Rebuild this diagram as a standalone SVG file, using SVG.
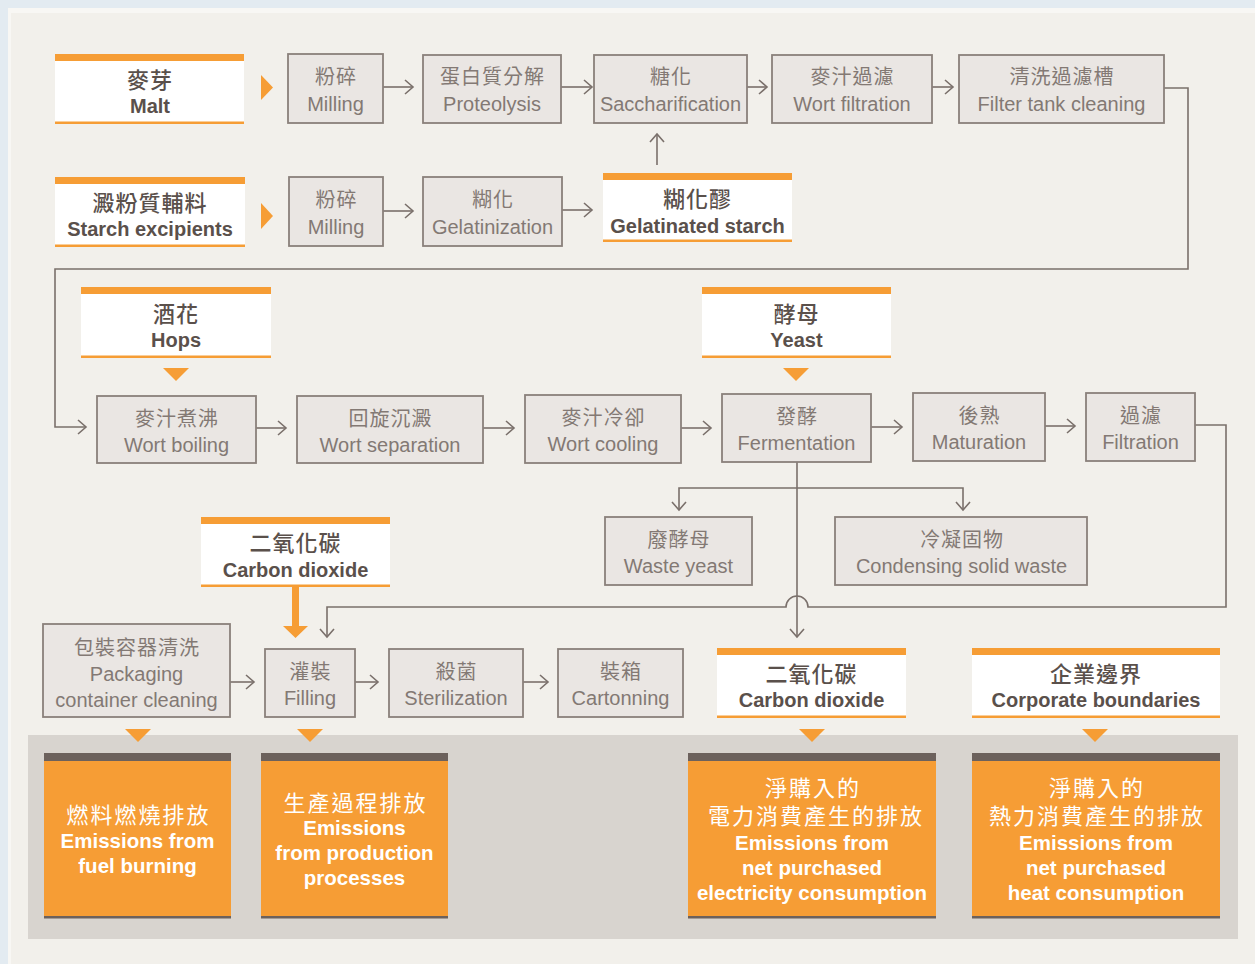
<svg xmlns="http://www.w3.org/2000/svg" width="1255" height="964" viewBox="0 0 1255 964">
<style>
text{font-family:"Liberation Sans","Noto Sans CJK TC",sans-serif;text-anchor:middle}
.box{fill:#eae6e3;stroke:#8a807b;stroke-width:1.8}
.ncjk{font-size:20px;fill:#837974;letter-spacing:1px}
.nen{font-size:20px;fill:#837974}
.lbg{fill:#ffffff}
.or{fill:#f69d35}
.lcjk{font-size:22px;fill:#5a504b;letter-spacing:1px;font-weight:500}
.len{font-size:20px;fill:#5a504b;font-weight:bold}
.con{fill:none;stroke:#7a706b;stroke-width:1.6}
.ecjk{font-size:22px;fill:#ffffff;letter-spacing:2px}
.een{font-size:20.5px;fill:#ffffff;font-weight:bold}
.dk{fill:#6c615c}
</style>
<defs>
<marker id="ah" markerUnits="userSpaceOnUse" markerWidth="12" markerHeight="18" viewBox="0 0 12 18" refX="10" refY="9" orient="auto">
<path d="M2,2 L10,9 L2,16" fill="none" stroke="#7a706b" stroke-width="1.6"/>
</marker>
</defs>
<rect x="0" y="0" width="1255" height="964" fill="#e3ebf1"/>
<rect x="8" y="8" width="1247" height="956" fill="#f8f7f4"/>
<rect x="11" y="13" width="1244" height="951" fill="#f2f0eb"/>
<rect x="28" y="735" width="1210" height="204" fill="#d8d4cf"/>

<g id="connectors">
<path class="con" d="M383,87 H413" marker-end="url(#ah)"/>
<path class="con" d="M561,87 H592" marker-end="url(#ah)"/>
<path class="con" d="M747,87 H767" marker-end="url(#ah)"/>
<path class="con" d="M932,87 H953" marker-end="url(#ah)"/>
<path class="con" d="M383,211 H413" marker-end="url(#ah)"/>
<path class="con" d="M562,210 H592" marker-end="url(#ah)"/>
<path class="con" d="M657,165 V134" marker-end="url(#ah)"/>
<path class="con" d="M1164,88 H1188 V269 H55 V427 H86" marker-end="url(#ah)"/>
<path class="con" d="M256,428 H286" marker-end="url(#ah)"/>
<path class="con" d="M483,428 H514" marker-end="url(#ah)"/>
<path class="con" d="M681,428 H711" marker-end="url(#ah)"/>
<path class="con" d="M871,427 H902" marker-end="url(#ah)"/>
<path class="con" d="M1045,426 H1075" marker-end="url(#ah)"/>
<path class="con" d="M1195,425 H1226 V607 H808 A11,11 0 0 0 786,607 H327 V637" marker-end="url(#ah)"/>
<path class="con" d="M797,462 V637" marker-end="url(#ah)"/>
<path class="con" d="M797,488 H679 V510" marker-end="url(#ah)"/>
<path class="con" d="M797,488 H963 V510" marker-end="url(#ah)"/>
<path class="con" d="M230,682 H254" marker-end="url(#ah)"/>
<path class="con" d="M355,682 H378" marker-end="url(#ah)"/>
<path class="con" d="M523,682 H548" marker-end="url(#ah)"/>
<polygon class="or" points="261,75 273,87.5 261,100"/>
<polygon class="or" points="261,203 273,216 261,229"/>
<polygon class="or" points="163,368 189,368 176,381"/>
<polygon class="or" points="783,368 809,368 796,381"/>
<polygon class="or" points="292,587 299,587 299,626 308,626 295.5,638 283,626 292,626"/>
<polygon class="or" points="125,729 151,729 138,742"/>
<polygon class="or" points="297,729 323,729 310,742"/>
<polygon class="or" points="799,729 825,729 812,742"/>
<polygon class="or" points="1082,729 1108,729 1095,742"/>
</g>

<g id="label-malt">
<rect class="lbg" x="55" y="54" width="189" height="70"/>
<rect class="or" x="55" y="54" width="189" height="7"/>
<rect class="or" x="55" y="121.5" width="189" height="2.5"/>
<text class="lcjk" x="150" y="88">麥芽</text>
<text class="len" x="150" y="113">Malt</text>
</g>
<g id="label-starch">
<rect class="lbg" x="55" y="177" width="190" height="70"/>
<rect class="or" x="55" y="177" width="190" height="7"/>
<rect class="or" x="55" y="244.5" width="190" height="2.5"/>
<text class="lcjk" x="150" y="211">澱粉質輔料</text>
<text class="len" x="150" y="236">Starch excipients</text>
</g>
<g id="label-gelatinated">
<rect class="lbg" x="603" y="173" width="189" height="69"/>
<rect class="or" x="603" y="173" width="189" height="7"/>
<rect class="or" x="603" y="239.5" width="189" height="2.5"/>
<text class="lcjk" x="697.5" y="207">糊化醪</text>
<text class="len" x="697.5" y="233">Gelatinated starch</text>
</g>
<g id="label-hops">
<rect class="lbg" x="81" y="287" width="190" height="71"/>
<rect class="or" x="81" y="287" width="190" height="7"/>
<rect class="or" x="81" y="355.5" width="190" height="2.5"/>
<text class="lcjk" x="176" y="322">酒花</text>
<text class="len" x="176" y="347">Hops</text>
</g>
<g id="label-yeast">
<rect class="lbg" x="702" y="287" width="189" height="71"/>
<rect class="or" x="702" y="287" width="189" height="7"/>
<rect class="or" x="702" y="355.5" width="189" height="2.5"/>
<text class="lcjk" x="796.5" y="322">酵母</text>
<text class="len" x="796.5" y="347">Yeast</text>
</g>
<g id="label-co2-in">
<rect class="lbg" x="201" y="517" width="189" height="70"/>
<rect class="or" x="201" y="517" width="189" height="7"/>
<rect class="or" x="201" y="584.5" width="189" height="2.5"/>
<text class="lcjk" x="295.5" y="551">二氧化碳</text>
<text class="len" x="295.5" y="577">Carbon dioxide</text>
</g>
<g id="label-co2-out">
<rect class="lbg" x="717" y="648" width="189" height="70"/>
<rect class="or" x="717" y="648" width="189" height="7"/>
<rect class="or" x="717" y="715.5" width="189" height="2.5"/>
<text class="lcjk" x="811.5" y="682">二氧化碳</text>
<text class="len" x="811.5" y="707">Carbon dioxide</text>
</g>
<g id="label-corporate">
<rect class="lbg" x="972" y="648" width="248" height="70"/>
<rect class="or" x="972" y="648" width="248" height="7"/>
<rect class="or" x="972" y="715.5" width="248" height="2.5"/>
<text class="lcjk" x="1096" y="682">企業邊界</text>
<text class="len" x="1096" y="707">Corporate boundaries</text>
</g>

<g id="n-milling1"><rect class="box" x="288" y="54" width="95" height="69"/><text class="ncjk" x="336" y="84">粉碎</text><text class="nen" x="335.5" y="111">Milling</text></g>
<g id="n-proteolysis"><rect class="box" x="423" y="55" width="138" height="68"/><text class="ncjk" x="492.5" y="84">蛋白質分解</text><text class="nen" x="492" y="111">Proteolysis</text></g>
<g id="n-saccharification"><rect class="box" x="594" y="55" width="153" height="68"/><text class="ncjk" x="671" y="84">糖化</text><text class="nen" x="670.5" y="111">Saccharification</text></g>
<g id="n-wortfiltration"><rect class="box" x="772" y="55" width="160" height="68"/><text class="ncjk" x="852.5" y="84">麥汁過濾</text><text class="nen" x="852" y="111">Wort filtration</text></g>
<g id="n-filtertank"><rect class="box" x="959" y="55" width="205" height="68"/><text class="ncjk" x="1062" y="84">清洗過濾槽</text><text class="nen" x="1061.5" y="111">Filter tank cleaning</text></g>
<g id="n-milling2"><rect class="box" x="289" y="177" width="94" height="69"/><text class="ncjk" x="336.5" y="207">粉碎</text><text class="nen" x="336" y="234">Milling</text></g>
<g id="n-gelatinization"><rect class="box" x="423" y="177" width="139" height="69"/><text class="ncjk" x="493" y="207">糊化</text><text class="nen" x="492.5" y="234">Gelatinization</text></g>
<g id="n-wortboiling"><rect class="box" x="97" y="396" width="159" height="67"/><text class="ncjk" x="177" y="426">麥汁煮沸</text><text class="nen" x="176.5" y="452">Wort boiling</text></g>
<g id="n-wortseparation"><rect class="box" x="297" y="396" width="186" height="67"/><text class="ncjk" x="390.5" y="426">回旋沉澱</text><text class="nen" x="390" y="452">Wort separation</text></g>
<g id="n-wortcooling"><rect class="box" x="525" y="395" width="156" height="68"/><text class="ncjk" x="603.5" y="425">麥汁冷卻</text><text class="nen" x="603" y="451">Wort cooling</text></g>
<g id="n-fermentation"><rect class="box" x="722" y="394" width="149" height="68"/><text class="ncjk" x="797" y="424">發酵</text><text class="nen" x="796.5" y="450">Fermentation</text></g>
<g id="n-maturation"><rect class="box" x="913" y="393" width="132" height="68"/><text class="ncjk" x="979.5" y="423">後熟</text><text class="nen" x="979" y="449">Maturation</text></g>
<g id="n-filtration"><rect class="box" x="1086" y="393" width="109" height="68"/><text class="ncjk" x="1141" y="423">過濾</text><text class="nen" x="1140.5" y="449">Filtration</text></g>
<g id="n-wasteyeast"><rect class="box" x="605" y="517" width="147" height="68"/><text class="ncjk" x="679" y="547">廢酵母</text><text class="nen" x="678.5" y="573">Waste yeast</text></g>
<g id="n-condensing"><rect class="box" x="835" y="517" width="252" height="68"/><text class="ncjk" x="962" y="547">冷凝固物</text><text class="nen" x="961.5" y="573">Condensing solid waste</text></g>
<g id="n-packaging"><rect class="box" x="43" y="624" width="187" height="93"/><text class="ncjk" x="137" y="655">包裝容器清洗</text><text class="nen" x="136.5" y="681">Packaging</text><text class="nen" x="136.5" y="707">container cleaning</text></g>
<g id="n-filling"><rect class="box" x="265" y="649" width="90" height="68"/><text class="ncjk" x="310.5" y="679">灌裝</text><text class="nen" x="310" y="705">Filling</text></g>
<g id="n-sterilization"><rect class="box" x="389" y="649" width="134" height="68"/><text class="ncjk" x="456.5" y="679">殺菌</text><text class="nen" x="456" y="705">Sterilization</text></g>
<g id="n-cartonning"><rect class="box" x="558" y="649" width="125" height="68"/><text class="ncjk" x="621" y="679">裝箱</text><text class="nen" x="620.5" y="705">Cartonning</text></g>

<g id="e-fuel">
<rect class="or" x="44" y="753" width="187" height="165"/>
<rect class="dk" x="44" y="753" width="187" height="8"/>
<rect class="dk" x="44" y="916" width="187" height="2.5"/>
<text class="ecjk" x="138.5" y="823">燃料燃燒排放</text>
<text class="een" x="137.5" y="848">Emissions from</text>
<text class="een" x="137.5" y="873">fuel burning</text>
</g>
<g id="e-production">
<rect class="or" x="261" y="753" width="187" height="165"/>
<rect class="dk" x="261" y="753" width="187" height="8"/>
<rect class="dk" x="261" y="916" width="187" height="2.5"/>
<text class="ecjk" x="355.5" y="811">生產過程排放</text>
<text class="een" x="354.5" y="835">Emissions</text>
<text class="een" x="354.5" y="860">from production</text>
<text class="een" x="354.5" y="885">processes</text>
</g>
<g id="e-electricity">
<rect class="or" x="688" y="753" width="248" height="165"/>
<rect class="dk" x="688" y="753" width="248" height="8"/>
<rect class="dk" x="688" y="916" width="248" height="2.5"/>
<text class="ecjk" x="813" y="796">淨購入的</text>
<text class="ecjk" x="816" y="824">電力消費產生的排放</text>
<text class="een" x="812" y="850">Emissions from</text>
<text class="een" x="812" y="875">net purchased</text>
<text class="een" x="812" y="900">electricity consumption</text>
</g>
<g id="e-heat">
<rect class="or" x="972" y="753" width="248" height="165"/>
<rect class="dk" x="972" y="753" width="248" height="8"/>
<rect class="dk" x="972" y="916" width="248" height="2.5"/>
<text class="ecjk" x="1097" y="796">淨購入的</text>
<text class="ecjk" x="1097" y="824">熱力消費產生的排放</text>
<text class="een" x="1096" y="850">Emissions from</text>
<text class="een" x="1096" y="875">net purchased</text>
<text class="een" x="1096" y="900">heat consumption</text>
</g>
</svg>
